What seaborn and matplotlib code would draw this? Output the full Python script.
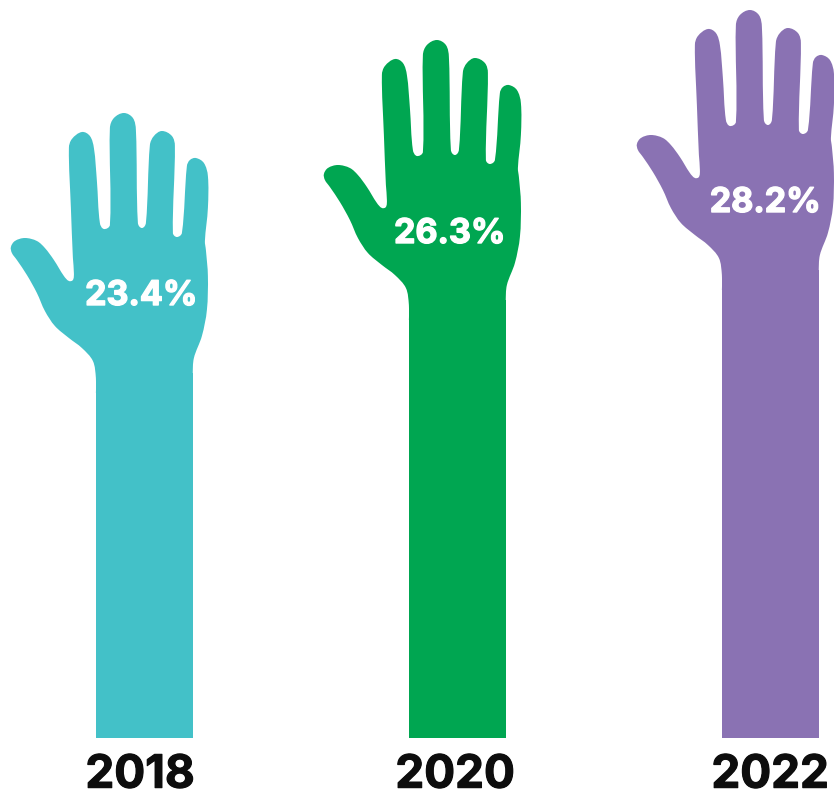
import numpy as np
import matplotlib
matplotlib.use("Agg")
import matplotlib.pyplot as plt
import matplotlib.patheffects as pe
from matplotlib.path import Path
from matplotlib.patches import PathPatch
from matplotlib.transforms import Affine2D, ScaledTranslation
import seaborn as sns

# Chart data
years = ["2018", "2020", "2022"]
shares = [23.4, 26.3, 28.2]
colors = ["#43C1C8", "#00A651", "#8A72B3"]
value_labels = ["23.4%", "26.3%", "28.2%"]

# Hand glyph traced in pixels, later centred on the top of the arm
WRIST = np.array([457.8, 300.0])
HAND_OUTLINE = np.array([
    (409, 320), (409, 305), (406, 288), (395, 275), (382, 265), (368, 253),
    (358, 238), (350, 220), (340, 202), (330, 187), (325, 180), (324, 174),
    (328, 168), (338, 165), (350, 168), (358, 175), (367, 187), (377, 203),
    (382, 208), (386, 207), (387, 200), (386, 185), (384, 135), (382, 75),
    (385, 66), (395, 59), (403, 63), (407, 75), (410, 108), (413, 150),
    (417, 156), (423, 152), (423, 55), (427, 45), (437, 40), (446, 45),
    (449, 57), (451, 150), (455, 155), (459, 150), (463, 72), (467, 63),
    (475, 58), (485, 63), (488, 73), (486, 160), (490, 164), (495, 160),
    (500, 93), (503, 87), (509, 85), (517, 90), (521, 103), (521, 135),
    (518, 168), (519, 177), (521, 203), (520, 237), (515, 263), (507, 285),
    (505.8, 302), (505.8, 320),
], dtype=float) - WRIST


def smooth_path(points):
    """Closed path through the outline points, with chord-limited curve handles."""
    n = len(points)
    tangents = []
    for k in range(n):
        d = points[min(k + 1, n - 1)] - points[max(k - 1, 0)]
        tangents.append(d / np.hypot(*d))
    verts = [points[0]]
    codes = [Path.MOVETO]
    for k in range(n - 1):
        chord = np.hypot(*(points[k + 1] - points[k])) / 3
        verts += [points[k] + tangents[k] * chord,
                  points[k + 1] - tangents[k + 1] * chord,
                  points[k + 1]]
        codes += [Path.CURVE4] * 3
    verts.append(points[0])
    codes.append(Path.CLOSEPOLY)
    return Path(verts, codes)


# Value axis: height above the baseline in pixels at each share
scale_values = [0.0, 23.4, 26.3, 28.2, 60.0]
scale_heights = [0.0, 365.0, 438.0, 468.0, 970.0]


def to_height(v):
    return np.interp(v, scale_values, scale_heights)


def to_value(h):
    return np.interp(h, scale_heights, scale_values)


sns.set_theme(style="white")
plt.rcParams["font.family"] = ["Inter", "DejaVu Sans"]

fig = plt.figure(figsize=(8.34, 7.98), dpi=100)
ax = fig.add_axes([0, 60 / 798, 1, 738 / 798])
ax.set_yscale("function", functions=(to_height, to_value))

sns.barplot(x=years, y=shares, hue=years, palette=colors, saturation=1,
            width=0.3118, legend=False, linewidth=0, ax=ax)

ax.set_xlim(-144.7 / 313, (834 - 144.7) / 313)
ax.set_ylim(0, to_value(738.0))
ax.set_xlabel("")
ax.set_ylabel("")
ax.set_yticks([])
ax.minorticks_off()
ax.tick_params(axis="y", which="both", left=False, labelleft=False)
ax.tick_params(axis="x", length=0, pad=12)
sns.despine(ax=ax, left=True, bottom=True)
ax.patch.set_alpha(0)

# Year labels under each arm
year_shift = [-4.5, -2.5, -0.5]
ax.set_xticks(range(len(years)), years)
for lab, dx in zip(ax.get_xticklabels(), year_shift):
    lab.set_fontsize(33)
    lab.set_fontweight("bold")
    lab.set_color("#0D0D0D")
    lab.set_path_effects([pe.withStroke(linewidth=0.8, foreground="#0D0D0D")])
    lab.set_transform(lab.get_transform() + ScaledTranslation(dx / 100, 0, fig.dpi_scale_trans))

# Hand on top of each arm, with the share written on the palm
hand_path = smooth_path(HAND_OUTLINE)
label_offsets = [(-3.5, 77), (-8, 66), (-5.5, 67)]
for i, (share, color, text, (dx, dy)) in enumerate(zip(shares, colors, value_labels, label_offsets)):
    x0, y0 = ax.transData.transform((i, share))
    ax.add_patch(PathPatch(hand_path, facecolor=color, edgecolor="none", lw=0,
                           transform=Affine2D().scale(1, -1).translate(x0, y0)))
    ax.annotate(text, (i, share), xytext=(dx, dy), textcoords="offset pixels",
                ha="center", va="center", color="white", fontsize=24.5, fontweight="bold",
                path_effects=[pe.withStroke(linewidth=1.0, foreground="white")])

fig.savefig("out.png", dpi=100, facecolor="white")
